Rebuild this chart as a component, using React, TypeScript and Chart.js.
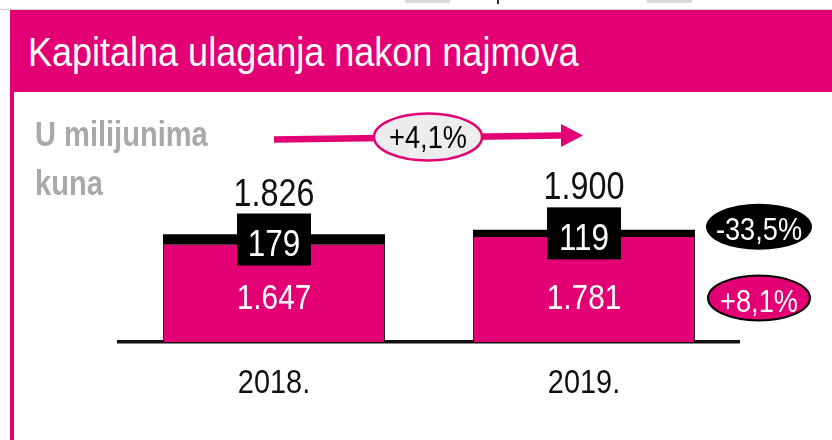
import React, { useEffect, useRef } from 'react';
import { Chart, registerables } from 'chart.js';

Chart.register(...registerables);

// ---- data ----
const categories = ['2018.', '2019.'];
const capexAfterLeases = [1647, 1781]; // magenta segment
const leases = [179, 119]; // black segment
const totals = [1826, 1900];
const unitLines = ['U milijunima', 'kuna'];
const titleText = 'Kapitalna ulaganja nakon najmova';

const MAGENTA = '#E20074';
const SANS = "'Liberation Sans', Arial, sans-serif";
const SX = 0.85; // horizontal condensing of the sans face

function fmt(v: number): string {
  return String(v).replace(/\B(?=(\d{3})+(?!\d))/g, '.');
}
function pct(a: number, b: number): string {
  const p = (b / a - 1) * 100;
  return (p >= 0 ? '+' : '-') + Math.abs(p).toFixed(1).replace('.', ',') + '%';
}

function narrowText(ctx: CanvasRenderingContext2D, s: string, x: number, y: number, size: number, color: string, sx = SX) {
  ctx.save();
  ctx.translate(x, y);
  ctx.scale(sx, 1);
  ctx.font = `${size}px ${SANS}`;
  ctx.textAlign = 'center';
  ctx.textBaseline = 'alphabetic';
  ctx.fillStyle = color;
  ctx.fillText(s, 0, 0);
  ctx.restore();
}

function ellipse(ctx: CanvasRenderingContext2D, cx: number, cy: number, rx: number, ry: number, fill: string, stroke: string, lw: number) {
  ctx.beginPath();
  ctx.ellipse(cx, cy, rx, ry, 0, 0, Math.PI * 2);
  ctx.fillStyle = fill;
  ctx.fill();
  if (lw > 0) {
    ctx.lineWidth = lw;
    ctx.strokeStyle = stroke;
    ctx.stroke();
  }
}

const overlay = {
  id: 'overlay',
  afterDraw(chart: any) {
    const ctx: CanvasRenderingContext2D = chart.ctx;
    const ys = chart.scales.y;
    const xs = chart.scales.x;
    const ca = chart.chartArea;
    const base = ys.getPixelForValue(0);
    const m0 = chart.getDatasetMeta(0).data;
    const m1 = chart.getDatasetMeta(1).data;
    ctx.save();
    const blackCenters: number[] = [];
    m0.forEach((bar: any, i: number) => {
      const x = bar.x;
      narrowText(ctx, fmt(capexAfterLeases[i]), x, base - 33, 35, '#fff');
      const blk = m1[i];
      const cy = (blk.y + blk.base) / 2;
      blackCenters.push(cy);
      ctx.fillStyle = '#000';
      ctx.fillRect(x - 37, cy - 26, 74, 52);
      narrowText(ctx, fmt(leases[i]), x, cy + 16.5, 37, '#fff');
      narrowText(ctx, fmt(totals[i]), x, cy - 34, 38, '#111');
    });

    // category labels on the x axis
    categories.forEach((c, i) => {
      narrowText(ctx, c, xs.getPixelForValue(i), base + 51, 34, '#111');
    });

    // growth arrow between totals
    const x0 = m0[0].x;
    const x1 = m0[1].x;
    const ay0 = ca.top + 39.5;
    const ay1 = ca.top + 35.5;
    const headL = 23;
    ctx.strokeStyle = MAGENTA;
    ctx.lineWidth = 6.5;
    ctx.beginPath();
    ctx.moveTo(x0, ay0);
    ctx.lineTo(x1 - headL, ay1);
    ctx.stroke();
    ctx.fillStyle = MAGENTA;
    ctx.beginPath();
    ctx.moveTo(x1 - headL, ay1 - 11.5);
    ctx.lineTo(x1 - 1, ay1);
    ctx.lineTo(x1 - headL, ay1 + 11.5);
    ctx.closePath();
    ctx.fill();

    const ex = (x0 + x1) / 2 - 1;
    const ey = ca.top + 37;
    ellipse(ctx, ex, ey, 54, 23.5, '#ededed', MAGENTA, 2.5);
    narrowText(ctx, pct(totals[0], totals[1]), ex, ey + 10.5, 32, '#000');

    // right side change bubbles
    const rx = ca.right + 20;
    const ry1 = blackCenters[1] - 6.5;
    ellipse(ctx, rx, ry1, 53, 23, '#000', '#000', 0);
    narrowText(ctx, pct(leases[0], leases[1]), rx, ry1 + 13.5, 32, '#fff');

    const ry2 = base - 44;
    ellipse(ctx, rx, ry2, 51, 22.5, MAGENTA, '#000', 2);
    narrowText(ctx, pct(capexAfterLeases[0], capexAfterLeases[1]), rx, ry2 + 13.5, 32, '#fff');
    ctx.restore();
  },
};

export default function App() {
  const ref = useRef<HTMLCanvasElement>(null);
  useEffect(() => {
    const chart = new Chart(ref.current as HTMLCanvasElement, {
      type: 'bar',
      data: {
        labels: categories,
        datasets: [
          {
            label: 'Kapitalna ulaganja nakon najmova',
            data: capexAfterLeases,
            backgroundColor: MAGENTA,
            borderColor: '#222',
            borderWidth: { left: 1, right: 1, top: 0, bottom: 0 },
            borderSkipped: false,
            barPercentage: 0.716,
            categoryPercentage: 1,
          },
          {
            label: 'Najmovi',
            data: leases,
            backgroundColor: '#000',
            borderWidth: 0,
            barPercentage: 0.716,
            categoryPercentage: 1,
          },
        ],
      },
      options: {
        responsive: false,
        animation: false,
        devicePixelRatio: 1,
        layout: { padding: { left: 119, right: 93, top: 100, bottom: 0 } },
        plugins: { legend: { display: false }, tooltip: { enabled: false }, title: { display: false } },
        scales: {
          x: {
            stacked: true,
            z: 1,
            grid: { display: false, drawTicks: false },
            border: { display: true, color: '#111', width: 3.5 },
            ticks: { display: false },
            afterFit: (s: any) => {
              s.height = 98;
            },
          },
          y: { stacked: true, display: false, min: 0, max: 4100 },
        },
      } as any,
      plugins: [overlay],
    });
    return () => chart.destroy();
  }, []);

  return (
    <div style={{ position: 'fixed', left: 0, top: 0, width: 832, height: 440, background: '#fff', overflow: 'hidden' }}>
      <canvas ref={ref} width={832} height={440} style={{ position: 'absolute', left: 0, top: 0, width: 832, height: 440 }} />
      {/* cropped artefacts at the top edge */}
      <div style={{ position: 'absolute', left: 405, top: 0, width: 45, height: 3, background: '#d9d9d9' }} />
      <div style={{ position: 'absolute', left: 497, top: 0, width: 2, height: 4, background: '#333' }} />
      <div style={{ position: 'absolute', left: 647, top: 0, width: 45, height: 3, background: '#d9d9d9' }} />
      <div style={{ position: 'absolute', left: 0, top: 9, width: 832, height: 1, background: '#cfcfcf' }} />
      {/* header */}
      <div style={{ position: 'absolute', left: 10, top: 10, width: 822, height: 82, background: MAGENTA }} />
      <div
        style={{
          position: 'absolute',
          left: 28,
          top: 32,
          fontFamily: SANS,
          fontSize: 40,
          lineHeight: '40px',
          color: '#fff',
          whiteSpace: 'nowrap',
          transform: 'scaleX(0.9)',
          transformOrigin: 'left top',
        }}
      >
        {titleText}
      </div>
      <div style={{ position: 'absolute', left: 10, top: 92, width: 4, height: 348, background: MAGENTA }} />
      <div
        style={{
          position: 'absolute',
          left: 35,
          top: 109,
          fontFamily: SANS,
          fontWeight: 'bold',
          fontSize: 35,
          lineHeight: '49px',
          color: '#a9a9a9',
          whiteSpace: 'nowrap',
          transform: 'scaleX(0.83)',
          transformOrigin: 'left top',
        }}
      >
        {unitLines.map((l) => (
          <div key={l}>{l}</div>
        ))}
      </div>
    </div>
  );
}
